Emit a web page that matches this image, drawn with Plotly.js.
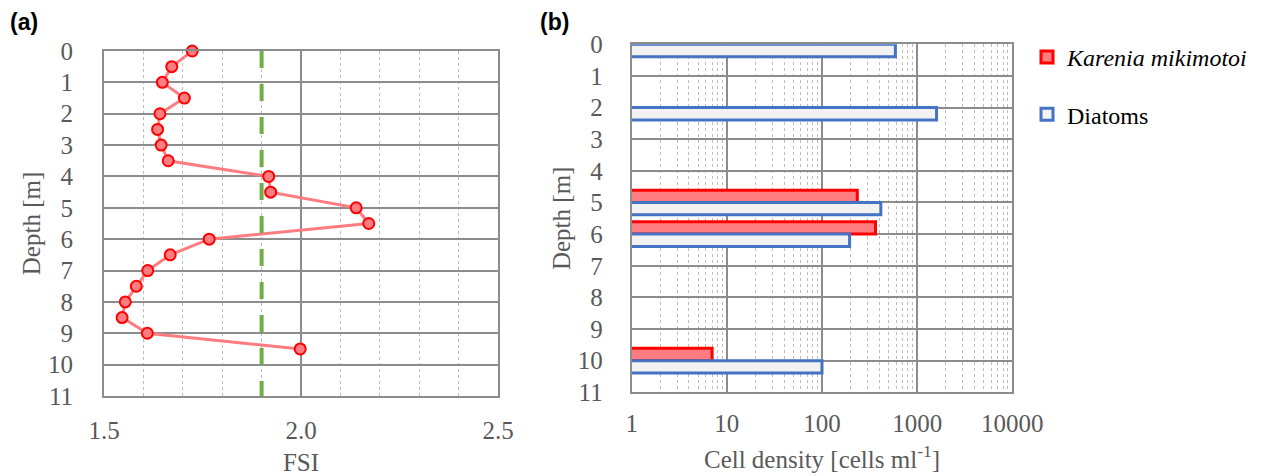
<!DOCTYPE html>
<html>
<head>
<meta charset="utf-8">
<script src="https://cdn.plot.ly/plotly-3.0.1.min.js"></script>
<style>html,body{margin:0;padding:0;background:#fff;}#chart{width:1264px;height:476px;}</style>
</head>
<body>
<div id="chart"></div>
<script>
// Panel (a): FSI profile
const fsiDepths = [0, 0.5, 1, 1.5, 2, 2.5, 3, 3.5, 4, 4.5, 5, 5.5, 6, 6.5, 7, 7.5, 8, 8.5, 9, 9.5];
const fsiValues = [1.724, 1.672, 1.648, 1.704, 1.642, 1.636, 1.645, 1.663, 1.918, 1.923, 2.14, 2.172, 1.767, 1.668, 1.611, 1.582, 1.554, 1.546, 1.610, 1.998];
const fsiThreshold = 1.9;
const thresholdDepths = [0, 11];

// Panel (b): cell densities
const cellDepths = [0, 2, 5, 6, 10];
const kareniaDensity = [null, null, 235, 365, 7];
const diatomDensity = [590, 1600, 415, 195, 100];
const densityTickVals = [1, 10, 100, 1000, 10000];
const densityTickText = ['1', '10', '100', '1000', '10000'];
const depthTicks = [0,1,2,3,4,5,6,7,8,9,10,11];

const serif = 'Liberation Serif, Times New Roman, serif';
const tickFont = {family: serif, size: 25, color: '#595959'};
const titleFont = {family: serif, size: 25, color: '#595959'};
const gridCol = '#8c8c8c';
const minorCol = '#bdbdbd';

const traces = [
  {
    x: fsiValues, y: fsiDepths, xaxis: 'x', yaxis: 'y',
    type: 'scatter', mode: 'lines+markers', showlegend: false, cliponaxis: false,
    line: {color: '#FF7C80', width: 3},
    marker: {size: 11, color: '#FF7C80', line: {color: '#FF0000', width: 2}}
  },
  {
    x: thresholdDepths.map(() => fsiThreshold), y: thresholdDepths, xaxis: 'x', yaxis: 'y',
    type: 'scatter', mode: 'lines', showlegend: false,
    line: {color: '#70AD47', width: 4, dash: '17px,16px'}
  },
  {
    name: '<i>Karenia mikimotoi</i>', legendgroup: 'k',
    x: kareniaDensity, y: cellDepths, xaxis: 'x2', yaxis: 'y2',
    type: 'bar', orientation: 'h',
    marker: {color: '#FF7C80', line: {color: '#FF0000', width: 3}}
  },
  {
    name: 'Diatoms', legendgroup: 'd',
    x: diatomDensity, y: cellDepths, xaxis: 'x2', yaxis: 'y2',
    type: 'bar', orientation: 'h',
    marker: {color: '#F2F2F2', line: {color: '#4472C4', width: 3}}
  }
];

const W = 1264, H = 476;
const layout = {
  width: W, height: H,
  margin: {l: 0, r: 0, t: 0, b: 0},
  paper_bgcolor: '#fff', plot_bgcolor: '#fff',
  barmode: 'group', bargap: 0.22, bargroupgap: 0,
  showlegend: true,
  legend: {
    x: 1027 / W, y: 1 - 35 / H, xanchor: 'left', yanchor: 'top',
    font: {family: serif, size: 24, color: '#000'},
    tracegroupgap: 23, bgcolor: 'rgba(0,0,0,0)'
  },
  xaxis: {
    domain: [104 / W, 498 / W], anchor: 'y',
    range: [1.5, 2.5], dtick: 0.5, tick0: 1.5, tickformat: '.1f',
    showgrid: true, gridcolor: gridCol, gridwidth: 2,
    showline: true, mirror: true, linecolor: gridCol, linewidth: 2,
    zeroline: false, automargin: false,
    ticks: 'outside', ticklen: 11, tickcolor: 'rgba(0,0,0,0)',
    minor: {dtick: 0.1, showgrid: true, gridcolor: minorCol, gridwidth: 1, griddash: '3px,3px', ticks: ''},
    tickfont: tickFont,
    title: {text: 'FSI', font: titleFont, standoff: 29}
  },
  yaxis: {
    domain: [(H - 396) / H, (H - 51) / H], anchor: 'x',
    range: [11, 0], tickvals: depthTicks,
    showgrid: true, gridcolor: gridCol, gridwidth: 2,
    showline: true, mirror: true, linecolor: gridCol, linewidth: 2,
    zeroline: false, automargin: false,
    ticks: 'outside', ticklen: 24, tickcolor: 'rgba(0,0,0,0)',
    tickfont: tickFont,
    title: {text: 'Depth [m]', font: titleFont, standoff: 0}
  },
  xaxis2: {
    domain: [631.7 / W, 1012.3 / W], anchor: 'y2',
    type: 'log', range: [0, 4], tickvals: densityTickVals, ticktext: densityTickText,
    showgrid: true, gridcolor: gridCol, gridwidth: 2,
    showline: true, mirror: true, linecolor: gridCol, linewidth: 2,
    zeroline: false, automargin: false,
    ticks: 'outside', ticklen: 8, tickcolor: 'rgba(0,0,0,0)',
    minor: {dtick: 'D1', showgrid: true, gridcolor: minorCol, gridwidth: 1, griddash: '3px,3px', ticks: ''},
    tickfont: tickFont,
    title: {text: 'Cell density [cells ml<sup>-1</sup>]', font: titleFont, standoff: 14}
  },
  yaxis2: {
    domain: [(H - 392.3) / H, (H - 44.3) / H], anchor: 'x2',
    range: [11, 0], tickvals: depthTicks,
    showgrid: true, gridcolor: gridCol, gridwidth: 2,
    showline: true, mirror: true, linecolor: gridCol, linewidth: 2,
    zeroline: false, automargin: false,
    ticks: 'outside', ticklen: 22, tickcolor: 'rgba(0,0,0,0)',
    tickfont: tickFont,
    title: {text: 'Depth [m]', font: titleFont, standoff: 0}
  },
  annotations: [
    {text: '<b>(a)</b>', xref: 'paper', yref: 'paper', x: 8 / W, y: 1 - 22 / H,
     xanchor: 'left', yanchor: 'middle', showarrow: false,
     font: {family: 'Liberation Sans, Arial, sans-serif', size: 23, color: '#000'}},
    {text: '<b>(b)</b>', xref: 'paper', yref: 'paper', x: 538 / W, y: 1 - 22 / H,
     xanchor: 'left', yanchor: 'middle', showarrow: false,
     font: {family: 'Liberation Sans, Arial, sans-serif', size: 23, color: '#000'}}
  ]
};

Plotly.newPlot('chart', traces, layout, {displayModeBar: false, staticPlot: true});
</script>
</body>
</html>
